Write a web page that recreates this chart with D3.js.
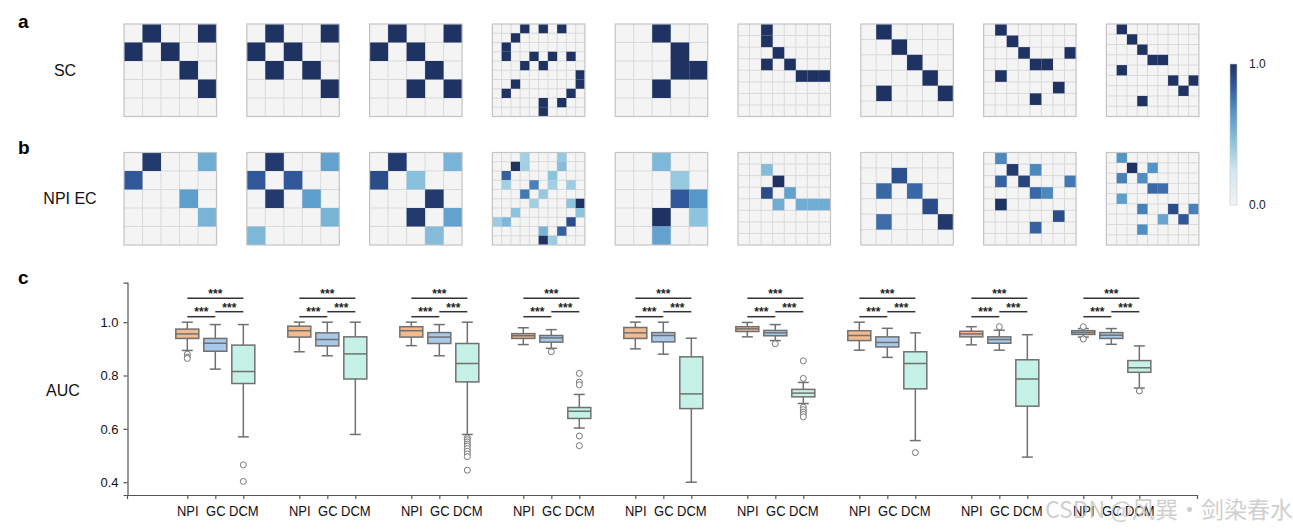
<!DOCTYPE html>
<html>
<head>
<meta charset="utf-8">
<script src="https://cdn.jsdelivr.net/npm/d3@7"></script>
<style>
  body { margin: 0; background: #fff; }
  text { font-family: Arial, "Liberation Sans", sans-serif; }
</style>
</head>
<body>
<div class="chart"></div>
<script>
var w = 1293;
var h = 531;

// ---- matrices (rows a and b) ----
var sizes = [5, 5, 5, 10, 5, 8, 6, 8, 9];

// [row, col] of the structural connections (value 1)
var scLinks = [
  [[0,1],[0,4],[1,0],[1,2],[2,3],[3,4]],
  [[0,1],[0,4],[1,0],[1,2],[2,1],[2,3],[3,4]],
  [[0,1],[0,4],[1,0],[1,2],[2,3],[3,2],[3,4]],
  [[0,3],[0,5],[0,7],[1,2],[2,1],[3,1],[3,4],[3,6],[3,8],[4,3],[4,5],[5,9],[6,2],[6,9],[7,1],[7,8],[8,5],[8,7],[9,5]],
  [[0,2],[1,3],[2,3],[2,4],[3,2]],
  [[0,2],[1,2],[2,3],[3,2],[3,4],[4,5],[4,6],[4,7]],
  [[0,1],[1,2],[2,3],[3,4],[4,1],[4,5]],
  [[0,1],[1,2],[2,3],[2,7],[3,4],[3,5],[4,1],[5,6],[6,4]],
  [[0,1],[1,2],[2,3],[3,4],[3,5],[4,1],[5,6],[5,8],[6,7],[7,3]]
];

// [row, col, value] of the estimated effective connections
var ecLinks = [
  [[0,1,0.97],[0,4,0.55],[1,0,0.85],[2,3,0.62],[3,4,0.52]],
  [[0,1,0.97],[0,4,0.6],[1,0,0.85],[1,2,0.85],[2,1,0.97],[2,3,0.62],[3,4,0.52],[4,0,0.5]],
  [[0,1,0.97],[0,4,0.52],[1,0,0.9],[1,2,0.46],[2,3,0.97],[3,2,0.97],[3,4,0.6],[4,3,0.48]],
  [[0,3,0.38],[0,7,0.42],[1,2,1.0],[1,3,0.38],[1,7,0.48],[2,1,0.82],[2,6,0.45],[3,1,0.38],[3,4,0.72],[3,6,0.38],[3,8,0.4],
   [4,3,0.75],[4,5,0.42],[5,4,0.38],[5,8,0.45],[5,9,1.0],[6,2,0.45],[6,9,0.45],[7,0,0.4],[7,1,0.5],[7,8,0.9],[8,5,0.52],[8,7,0.82],[9,5,1.0],[9,6,0.4]],
  [[0,2,0.5],[1,3,0.42],[2,3,0.85],[2,4,0.65],[3,2,1.0],[3,4,0.45],[4,2,0.6]],
  [[1,2,0.48],[2,3,1.0],[3,2,0.9],[3,4,0.6],[4,3,0.55],[4,5,0.55],[4,6,0.55],[4,7,0.55]],
  [[1,2,0.88],[2,1,0.8],[2,3,0.8],[3,4,0.9],[4,1,0.78],[4,5,0.98]],
  [[0,1,0.7],[1,2,0.97],[1,4,0.7],[2,1,0.82],[2,3,0.93],[2,7,0.75],[3,4,0.8],[3,5,0.7],[4,1,1.0],[5,6,0.9],[6,4,0.82]],
  [[0,1,0.66],[1,2,1.0],[1,4,0.66],[2,1,0.72],[2,3,0.68],[3,4,0.8],[3,5,0.78],[4,1,0.62],[5,3,0.72],[5,6,0.9],[5,8,0.72],[6,5,0.58],[6,7,0.86],[7,3,0.68]]
];

// ---- box plots (row c) ----
var methods = ["NPI", "GC", "DCM"];
var methodColors = ["#f2ba8f", "#a9c8ea", "#c5f2e6"];
var yTicks = [0.4, 0.6, 0.8, 1.0];

// [lower whisker, q1, median, q3, upper whisker] per panel
var npiStats = [
  [0.894, 0.939, 0.956, 0.974, 1.0],
  [0.889, 0.944, 0.968, 0.985, 1.0],
  [0.912, 0.944, 0.968, 0.983, 1.0],
  [0.916, 0.939, 0.949, 0.957, 0.979],
  [0.900, 0.939, 0.960, 0.980, 1.0],
  [0.945, 0.965, 0.975, 0.983, 0.999],
  [0.895, 0.931, 0.950, 0.968, 1.0],
  [0.915, 0.945, 0.956, 0.966, 0.983],
  [0.944, 0.954, 0.961, 0.968, 0.976]
];
var gcStats = [
  [0.824, 0.891, 0.921, 0.939, 0.991],
  [0.874, 0.911, 0.935, 0.960, 1.0],
  [0.874, 0.920, 0.944, 0.961, 0.991],
  [0.902, 0.925, 0.941, 0.950, 0.972],
  [0.880, 0.926, 0.950, 0.961, 1.0],
  [0.931, 0.949, 0.960, 0.969, 0.991],
  [0.868, 0.907, 0.924, 0.945, 0.977],
  [0.895, 0.921, 0.935, 0.945, 0.970],
  [0.917, 0.939, 0.951, 0.961, 0.976]
];
var dcmStats = [
  [0.570, 0.770, 0.815, 0.914, 0.991],
  [0.579, 0.787, 0.881, 0.945, 1.0],
  [0.579, 0.776, 0.845, 0.920, 1.0],
  [0.603, 0.639, 0.666, 0.680, 0.729],
  [0.400, 0.676, 0.731, 0.870, 0.940],
  [0.695, 0.720, 0.734, 0.748, 0.774],
  [0.556, 0.750, 0.845, 0.889, 0.960],
  [0.494, 0.685, 0.787, 0.859, 0.953],
  [0.753, 0.812, 0.829, 0.856, 0.911]
];
var npiOutliers = [[0.880, 0.869, 0.864], [], [], [], [], [], [], [], [0.983, 0.937]];
var gcOutliers = [[], [], [], [0.889], [], [0.919], [], [0.983], []];
var dcmOutliers = [
  [0.465, 0.403],
  [],
  [0.566, 0.559, 0.551, 0.543, 0.536, 0.526, 0.516, 0.506, 0.496, 0.445],
  [0.808, 0.775, 0.765, 0.573, 0.537],
  [],
  [0.855, 0.789, 0.681, 0.672, 0.663, 0.654, 0.645],
  [0.511],
  [],
  [0.742]
];
var allStats = [npiStats, gcStats, dcmStats];
var allOutliers = [npiOutliers, gcOutliers, dcmOutliers];

// ---- svg ----
var svg = d3.select(".chart").append("svg")
            .attr("width", w)
            .attr("height", h);

var color = d3.scaleLinear()
              .domain([0, 0.25, 0.45, 0.65, 0.85, 1])
              .range(["#f2f4f6", "#cfe6ef", "#8cc3dd", "#5597c9", "#30589a", "#1f3363"])
              .clamp(true);

var panelX = d3.scaleLinear().domain([0, 1]).range([124, 246.8]);
var panelSize = 92.5;

var drawMatrix = function(i, top, links) {
  var n = sizes[i];
  var cell = d3.scaleLinear().domain([0, n]).range([0, panelSize]);
  var g = svg.append("g")
             .attr("transform", "translate(" + panelX(i) + "," + top + ")");

  g.append("rect")
   .attr("width", panelSize)
   .attr("height", panelSize)
   .attr("fill", "#f4f4f4");

  g.selectAll("line.v")
   .data(d3.range(1, n))
   .enter()
   .append("line")
   .attr("x1", function(d) { return cell(d); })
   .attr("x2", function(d) { return cell(d); })
   .attr("y1", 0)
   .attr("y2", panelSize)
   .attr("stroke", "#d9d9d9");

  g.selectAll("line.h")
   .data(d3.range(1, n))
   .enter()
   .append("line")
   .attr("y1", function(d) { return cell(d); })
   .attr("y2", function(d) { return cell(d); })
   .attr("x1", 0)
   .attr("x2", panelSize)
   .attr("stroke", "#d9d9d9");

  g.selectAll("rect.cell")
   .data(links)
   .enter()
   .append("rect")
   .attr("x", function(d) { return cell(d[1]); })
   .attr("y", function(d) { return cell(d[0]); })
   .attr("width", cell(1))
   .attr("height", cell(1))
   .attr("fill", function(d) { return color(d.length > 2 ? d[2] : 1); });

  g.append("rect")
   .attr("width", panelSize)
   .attr("height", panelSize)
   .attr("fill", "none")
   .attr("stroke", "#c4c4c4")
   .attr("stroke-width", 1.2);
};

for (var i = 0; i < sizes.length; i++) {
  drawMatrix(i, 24, scLinks[i]);
  drawMatrix(i, 152.5, ecLinks[i]);
}

// panel letters and row labels
svg.append("text").attr("x", 18).attr("y", 28).text("a")
   .style("font-size", "19px").style("font-weight", "bold");
svg.append("text").attr("x", 18).attr("y", 154).text("b")
   .style("font-size", "19px").style("font-weight", "bold");
svg.append("text").attr("x", 18).attr("y", 284).text("c")
   .style("font-size", "19px").style("font-weight", "bold");

svg.append("text").attr("x", 65).attr("y", 76).attr("text-anchor", "middle")
   .text("SC").style("font-size", "16px").attr("fill", "#111");
svg.append("text").attr("x", 70).attr("y", 204).attr("text-anchor", "middle")
   .text("NPI EC").style("font-size", "16px").attr("fill", "#111");

// colorbar
var defs = svg.append("defs");
var grad = defs.append("linearGradient")
               .attr("id", "cbar")
               .attr("x1", 0).attr("x2", 0).attr("y1", 1).attr("y2", 0);
grad.selectAll("stop")
    .data(d3.range(0, 1.001, 0.05))
    .enter()
    .append("stop")
    .attr("offset", function(d) { return d; })
    .attr("stop-color", function(d) { return color(d); });

var cbScale = d3.scaleLinear().domain([0, 1]).range([205, 64]);
svg.append("rect")
   .attr("x", 1230)
   .attr("y", cbScale(1))
   .attr("width", 7)
   .attr("height", cbScale(0) - cbScale(1))
   .attr("fill", "url(#cbar)")
   .attr("stroke", "#c8c8c8")
   .attr("stroke-width", 0.6);
svg.selectAll("text.cb")
   .data([0, 1])
   .enter()
   .append("text")
   .attr("x", 1249)
   .attr("y", function(d) { return cbScale(d) + 4; })
   .text(function(d) { return d.toFixed(1); })
   .style("font-size", "12px")
   .attr("fill", "#222");

// ---- box plot axes ----
var yScale = d3.scaleLinear().domain([0.352, 1.148]).range([495, 282.7]);
var xScale = d3.scaleLinear().domain([-2.154, 36.06]).range([127, 1197]);
var slots = [];
for (var g = 0; g < 9; g++) {
  for (var m = 0; m < 3; m++) slots.push(g * 4 + m);
}

var yAxis = d3.axisLeft(yScale)
              .tickValues(yTicks)
              .tickFormat(d3.format(".1f"))
              .tickSizeOuter(0)
              .tickSize(4)
              .tickPadding(5);
var xAxis = d3.axisBottom(xScale)
              .tickValues(slots)
              .tickFormat(function(d) { return methods[d % 4]; })
              .tickSizeOuter(0)
              .tickSize(4)
              .tickPadding(6);

var yG = svg.append("g")
   .attr("transform", "translate(127.5,0)")
   .call(yAxis);
var xG = svg.append("g")
   .attr("transform", "translate(0,495)")
   .call(xAxis);
[yG, xG].forEach(function(a) {
  a.selectAll("path, line").attr("stroke", "#555").attr("stroke-width", 1.2);
  a.selectAll("text").style("font-size", "13px").attr("fill", "#111")
   .style("font-family", "Arial, 'Liberation Sans', sans-serif");
});
xG.selectAll("text").attr("transform", "scale(1,1.08)");

svg.append("text")
   .attr("x", 63)
   .attr("y", 396)
   .attr("text-anchor", "middle")
   .text("AUC")
   .style("font-size", "16px")
   .attr("fill", "#111");

// ---- boxes ----
var boxW = 23;
var capW = 11;
var edge = "#707070";

for (var g = 0; g < 9; g++) {
  for (var m = 0; m < 3; m++) {
    var s = allStats[m][g];
    var cx = xScale(g * 4 + m);
    var bg = svg.append("g");

    bg.append("line")
      .attr("x1", cx).attr("x2", cx)
      .attr("y1", yScale(s[4])).attr("y2", yScale(s[3]))
      .attr("stroke", edge).attr("stroke-width", 1.5);
    bg.append("line")
      .attr("x1", cx).attr("x2", cx)
      .attr("y1", yScale(s[1])).attr("y2", yScale(s[0]))
      .attr("stroke", edge).attr("stroke-width", 1.5);
    bg.selectAll("line.cap")
      .data([s[0], s[4]])
      .enter()
      .append("line")
      .attr("x1", cx - capW / 2).attr("x2", cx + capW / 2)
      .attr("y1", function(d) { return yScale(d); })
      .attr("y2", function(d) { return yScale(d); })
      .attr("stroke", edge).attr("stroke-width", 1.5);
    bg.append("rect")
      .attr("x", cx - boxW / 2)
      .attr("y", yScale(s[3]))
      .attr("width", boxW)
      .attr("height", yScale(s[1]) - yScale(s[3]))
      .attr("fill", methodColors[m])
      .attr("stroke", edge).attr("stroke-width", 1.5);
    bg.append("line")
      .attr("x1", cx - boxW / 2).attr("x2", cx + boxW / 2)
      .attr("y1", yScale(s[2])).attr("y2", yScale(s[2]))
      .attr("stroke", edge).attr("stroke-width", 1.5);
    bg.selectAll("circle")
      .data(allOutliers[m][g])
      .enter()
      .append("circle")
      .attr("cx", cx)
      .attr("cy", function(d) { return yScale(d); })
      .attr("r", 3)
      .attr("fill", "#fff")
      .attr("stroke", "#777")
      .attr("stroke-width", 1);
  }

  // significance brackets
  var brackets = [[0, 1, 316.7, 7], [1, 2, 311.7, 5.5], [0, 2, 298.3, 6.5]];
  brackets.forEach(function(b) {
    var x1 = xScale(g * 4 + b[0]);
    var x2 = xScale(g * 4 + b[1]);
    svg.append("line")
       .attr("x1", x1).attr("x2", x2)
       .attr("y1", b[2]).attr("y2", b[2])
       .attr("stroke", "#333").attr("stroke-width", 1.5);
    svg.append("text")
       .attr("x", (x1 + x2) / 2)
       .attr("y", b[2] - b[3] + 6)
       .attr("text-anchor", "middle")
       .text("***")
       .style("font-size", "12px")
       .style("font-weight", "bold")
       .attr("fill", "#222");
  });
}

// watermark
svg.append("text")
   .attr("x", 1045)
   .attr("y", 518)
   .text("CSDN @风巽·剑染春水")
   .style("font-family", "'Noto Sans CJK SC', sans-serif")
   .style("font-size", "23px")
   .attr("fill", "#c4c4c4")
   .attr("opacity", 0.8);
</script>
</body>
</html>
